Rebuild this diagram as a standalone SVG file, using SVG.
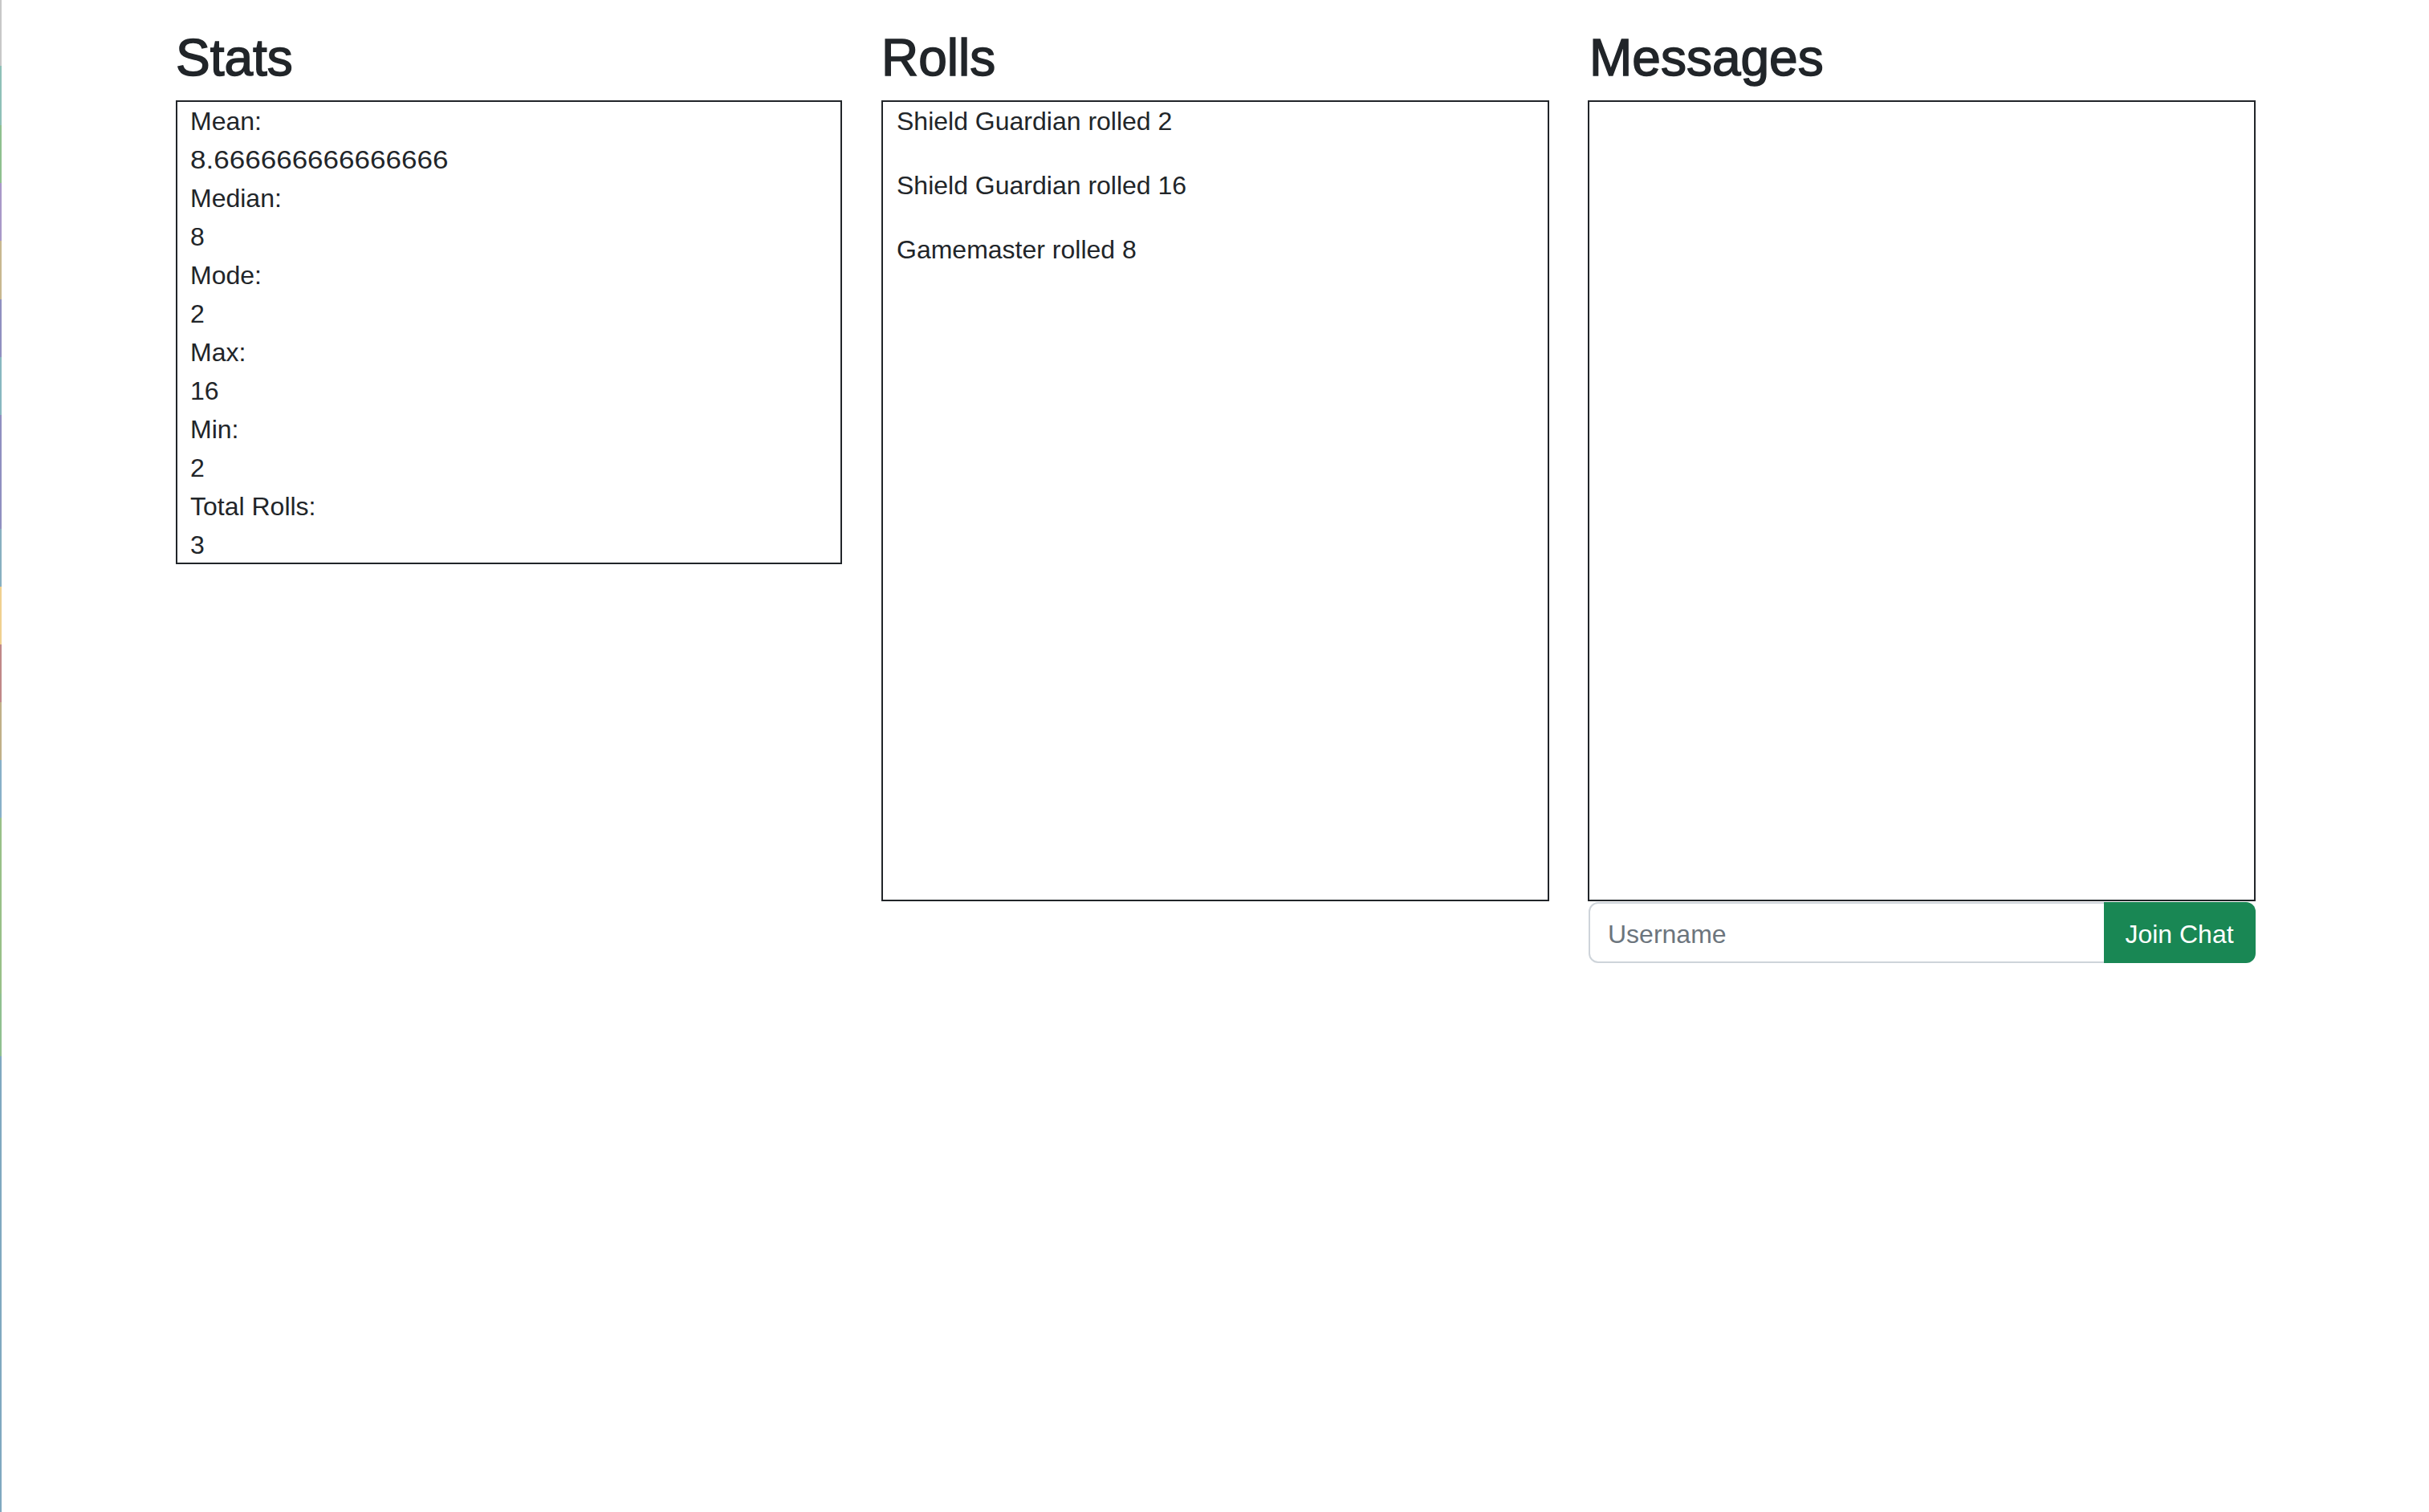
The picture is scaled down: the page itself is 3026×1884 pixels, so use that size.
<svg xmlns="http://www.w3.org/2000/svg" width="3026" height="1884" viewBox="0 0 3026 1884">
<style>
.h{font-family:"Liberation Sans",Arial,sans-serif;font-size:64px;fill:#212529;stroke:#212529;stroke-width:1.5}
.t{font-family:"Liberation Sans",Arial,sans-serif;font-size:32px;fill:#212529}
.box{fill:#fff;stroke:#212529;stroke-width:2}
</style>
<rect x="0" y="0" width="3026" height="1884" fill="#fff"/>
<g id="edge-strip">
<rect x="0" y="0" width="2" height="82" fill="#c8c8c8"/>
<rect x="0" y="82" width="2" height="74" fill="#8fc0b8"/>
<rect x="0" y="156" width="2" height="72" fill="#8fc08f"/>
<rect x="0" y="228" width="2" height="72" fill="#a898c8"/>
<rect x="0" y="300" width="2" height="73" fill="#c8b890"/>
<rect x="0" y="373" width="2" height="72" fill="#9090c0"/>
<rect x="0" y="445" width="2" height="72" fill="#88b8c0"/>
<rect x="0" y="517" width="2" height="142" fill="#9090c0"/>
<rect x="0" y="659" width="2" height="72" fill="#88b0c0"/>
<rect x="0" y="731" width="2" height="72" fill="#f0d090"/>
<rect x="0" y="803" width="2" height="72" fill="#c08888"/>
<rect x="0" y="875" width="2" height="72" fill="#c0b088"/>
<rect x="0" y="947" width="2" height="72" fill="#88b0c8"/>
<rect x="0" y="1019" width="2" height="219" fill="#98c088"/>
<rect x="0" y="1238" width="2" height="78" fill="#90c090"/>
<rect x="0" y="1316" width="2" height="568" fill="#80a8c0"/>
</g>
<g id="stats">
<text class="h" x="219" y="94">Stats</text>
<rect class="box" x="220" y="126" width="828" height="576"/>
<text class="t" x="237" y="162">Mean:</text>
<text class="t" x="0" y="0" transform="translate(237,210) scale(1.095,1)">8.666666666666666</text>
<text class="t" x="237" y="258">Median:</text>
<text class="t" x="237" y="306">8</text>
<text class="t" x="237" y="354">Mode:</text>
<text class="t" x="237" y="402">2</text>
<text class="t" x="237" y="450">Max:</text>
<text class="t" x="237" y="498">16</text>
<text class="t" x="237" y="546">Min:</text>
<text class="t" x="237" y="594">2</text>
<text class="t" x="237" y="642">Total Rolls:</text>
<text class="t" x="237" y="690">3</text>
</g>
<g id="rolls">
<text class="h" x="1098" y="94">Rolls</text>
<rect class="box" x="1099" y="126" width="830" height="996"/>
<text class="t" x="1117" y="162">Shield Guardian rolled 2</text>
<text class="t" x="1117" y="242">Shield Guardian rolled 16</text>
<text class="t" x="1117" y="322">Gamemaster rolled 8</text>
</g>
<g id="messages">
<text class="h" x="1980" y="94">Messages</text>
<rect class="box" x="1979" y="126" width="830" height="996"/>
</g>
<g id="chat-form">
<path d="M2622,1125 H1991 A11,11 0 0 0 1980,1136 V1188 A11,11 0 0 0 1991,1199 H2622" fill="#fff" stroke="#ced4da" stroke-width="2"/>
<text class="t" x="2003" y="1175" style="fill:#6c757d">Username</text>
<path d="M2621,1124 H2798 A12,12 0 0 1 2810,1136 V1188 A12,12 0 0 1 2798,1200 H2621 Z" fill="#198754"/>
<text class="t" x="2715" y="1175" text-anchor="middle" style="fill:#fff">Join Chat</text>
</g>
</svg>
